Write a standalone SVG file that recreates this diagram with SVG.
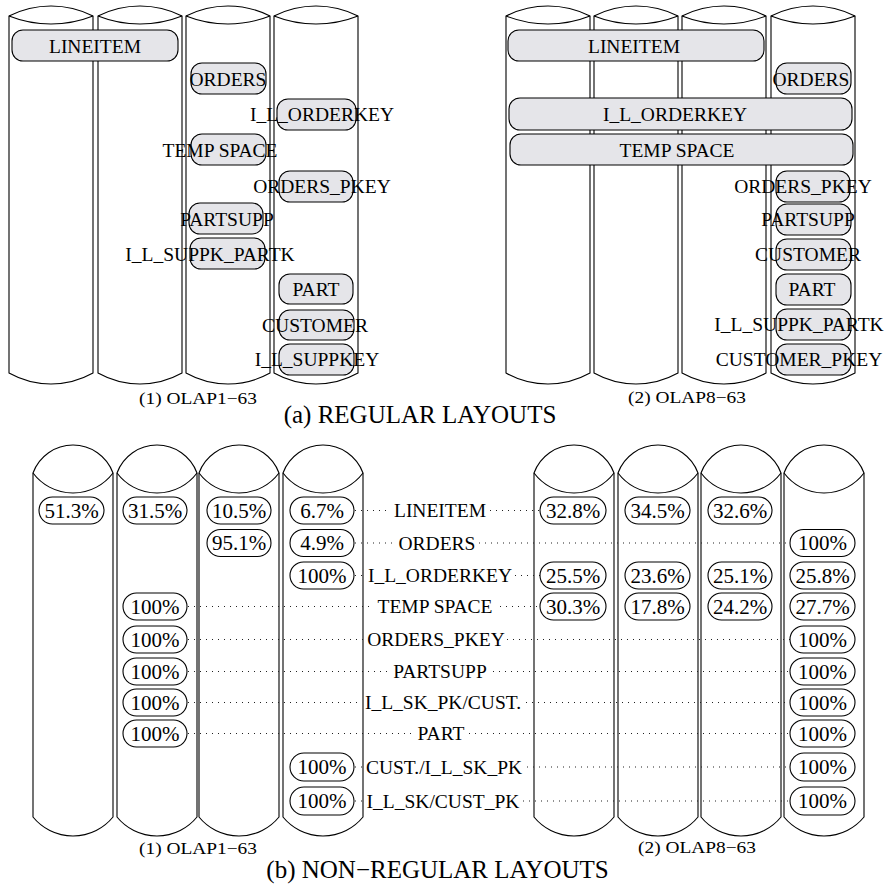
<svg xmlns="http://www.w3.org/2000/svg" xmlns:xlink="http://www.w3.org/1999/xlink" width="889" height="886" viewBox="0 0 889 886">
<style>
.cyl path{fill:#fff;stroke:#000;stroke-width:1.1}
.cyl path.lens{fill:none}
.box{fill:#e5e5e9;stroke:#000;stroke-width:1.1}
.pill{fill:#fff;stroke:#000;stroke-width:1.1}
.t{font-family:"Liberation Serif","Times New Roman",serif;font-size:19.5px;text-anchor:middle;fill:#000}
.p{font-family:"Liberation Serif","Times New Roman",serif;font-size:21px;text-anchor:middle;fill:#000}
.cap{font-family:"Liberation Serif","Times New Roman",serif;font-size:17.5px;text-anchor:middle;fill:#000}
.big{font-family:"Liberation Serif","Times New Roman",serif;font-size:25px;text-anchor:middle;fill:#000}
.dot{stroke:#222;stroke-width:1.1;stroke-dasharray:1 5;fill:none}
</style>
<defs>
<g id="cylTop" class="cyl"><path d="M0 16 V373 A86 86 0 0 0 84 373 V16 A93 93 0 0 0 0 16 Z"/><path class="lens" d="M0 16 A114 114 0 0 0 84 16"/></g>
<g id="cylBot" class="cyl"><path d="M0 473 V817 A51.6 51.6 0 0 0 80 817 V473 A42.6 42.6 0 0 0 0 473 Z"/><path class="lens" d="M0 473 A50 50 0 0 0 80 473"/></g>
</defs>

<g id="cylinders-a">
<use id="a1-cyl1" xlink:href="#cylTop" x="9"/>
<use id="a1-cyl2" xlink:href="#cylTop" x="98"/>
<use id="a1-cyl3" xlink:href="#cylTop" x="186"/>
<use id="a1-cyl4" xlink:href="#cylTop" x="274"/>
<use id="a2-cyl1" xlink:href="#cylTop" x="506"/>
<use id="a2-cyl2" xlink:href="#cylTop" x="594"/>
<use id="a2-cyl3" xlink:href="#cylTop" x="682"/>
<use id="a2-cyl4" xlink:href="#cylTop" x="771"/>
</g>
<g id="cylinders-b">
<use id="b1-cyl1" xlink:href="#cylBot" x="33"/>
<use id="b1-cyl2" xlink:href="#cylBot" x="117"/>
<use id="b1-cyl3" xlink:href="#cylBot" x="199"/>
<use id="b1-cyl4" xlink:href="#cylBot" x="283"/>
<use id="b2-cyl1" xlink:href="#cylBot" x="534"/>
<use id="b2-cyl2" xlink:href="#cylBot" x="618"/>
<use id="b2-cyl3" xlink:href="#cylBot" x="701"/>
<use id="b2-cyl4" xlink:href="#cylBot" x="784"/>
</g>

<!-- (a) regular layouts, OLAP1-63 -->
<g id="a1-lineitem"><rect class="box" x="12" y="30" width="166" height="31" rx="11"/><text class="t" x="95" y="52.5">LINEITEM</text></g>
<g id="a1-orders"><rect class="box" x="191" y="63" width="75" height="31" rx="11"/><text class="t" x="228" y="85.5">ORDERS</text></g>
<g id="a1-ilorderkey"><rect class="box" x="277" y="99" width="79" height="31" rx="11"/><text class="t" x="322" y="121">I_L_ORDERKEY</text></g>
<g id="a1-tempspace"><rect class="box" x="191" y="134" width="75" height="31" rx="11"/><text class="t" x="220" y="156.5">TEMP SPACE</text></g>
<g id="a1-orderspkey"><rect class="box" x="279" y="171" width="74" height="31" rx="11"/><text class="t" x="322" y="193">ORDERS_PKEY</text></g>
<g id="a1-partsupp"><rect class="box" x="189" y="203" width="74" height="31" rx="11"/><text class="t" x="227" y="225.5">PARTSUPP</text></g>
<g id="a1-ilsuppkpartk"><rect class="box" x="190" y="238" width="75" height="31" rx="11"/><text class="t" x="210" y="260.5">I_L_SUPPK_PARTK</text></g>
<g id="a1-part"><rect class="box" x="279" y="274" width="74" height="30" rx="11"/><text class="t" x="316" y="296">PART</text></g>
<g id="a1-customer"><rect class="box" x="279" y="310" width="75" height="30" rx="11"/><text class="t" x="315" y="331.5">CUSTOMER</text></g>
<g id="a1-ilsuppkey"><rect class="box" x="279" y="344" width="75" height="31" rx="11"/><text class="t" x="317" y="366">I_L_SUPPKEY</text></g>

<!-- (a) regular layouts, OLAP8-63 -->
<g id="a2-lineitem"><rect class="box" x="508" y="30" width="256" height="31" rx="11"/><text class="t" x="634" y="52.5">LINEITEM</text></g>
<g id="a2-orders"><rect class="box" x="776" y="63" width="75" height="31" rx="11"/><text class="t" x="811" y="85.5">ORDERS</text></g>
<g id="a2-ilorderkey"><rect class="box" x="509" y="98" width="343" height="32" rx="11"/><text class="t" x="675" y="121">I_L_ORDERKEY</text></g>
<g id="a2-tempspace"><rect class="box" x="510" y="134" width="343" height="31" rx="11"/><text class="t" x="677" y="156.5">TEMP SPACE</text></g>
<g id="a2-orderspkey"><rect class="box" x="776" y="171" width="74" height="31" rx="11"/><text class="t" x="803" y="193">ORDERS_PKEY</text></g>
<g id="a2-partsupp"><rect class="box" x="776" y="204" width="75" height="31" rx="11"/><text class="t" x="808" y="226">PARTSUPP</text></g>
<g id="a2-customer"><rect class="box" x="776" y="239" width="75" height="31" rx="11"/><text class="t" x="808" y="261">CUSTOMER</text></g>
<g id="a2-part"><rect class="box" x="776" y="274" width="75" height="31" rx="11"/><text class="t" x="812" y="296">PART</text></g>
<g id="a2-ilsuppkpartk"><rect class="box" x="776" y="309" width="75" height="31" rx="11"/><text class="t" x="799" y="331">I_L_SUPPK_PARTK</text></g>
<g id="a2-customerpkey"><rect class="box" x="776" y="344" width="75" height="31" rx="11"/><text class="t" x="799" y="366">CUSTOMER_PKEY</text></g>

<g id="captions-a">
<text class="cap" x="198" y="404" textLength="118" lengthAdjust="spacingAndGlyphs">(1) OLAP1−63</text>
<text class="cap" x="687" y="403" textLength="118" lengthAdjust="spacingAndGlyphs">(2) OLAP8−63</text>
<text class="big" x="420" y="423">(a) REGULAR LAYOUTS</text>
</g>

<!-- (b) connectors -->
<g id="connectors">
<path class="dot" d="M355 510.5H390M490 510.5H540"/>
<path class="dot" d="M355 543H396M479 543H790"/>
<path class="dot" d="M355 575.5H365M515 575.5H540"/>
<path class="dot" d="M188 606.5H373M500 606.5H540"/>
<path class="dot" d="M188 639.5H365M507 639.5H790"/>
<path class="dot" d="M188 671.5H389M493 671.5H790"/>
<path class="dot" d="M188 702.5H361M526 702.5H790"/>
<path class="dot" d="M188 733.5H413M469 733.5H790"/>
<path class="dot" d="M355 767H362M527 767H790"/>
<path class="dot" d="M355 801H362M523 801H790"/>
</g>

<!-- (b) labels -->
<g id="labels-b">
<text id="lb-lineitem" class="t" x="440" y="517">LINEITEM</text>
<text id="lb-orders" class="t" x="437" y="549.5">ORDERS</text>
<text id="lb-ilorderkey" class="t" x="440" y="582">I_L_ORDERKEY</text>
<text id="lb-tempspace" class="t" x="435" y="613">TEMP SPACE</text>
<text id="lb-orderspkey" class="t" x="436" y="646">ORDERS_PKEY</text>
<text id="lb-partsupp" class="t" x="440" y="678">PARTSUPP</text>
<text id="lb-ilskpk" class="t" x="443" y="709">I_L_SK_PK/CUST.</text>
<text id="lb-part" class="t" x="441" y="740">PART</text>
<text id="lb-cust" class="t" x="444" y="773.5">CUST./I_L_SK_PK</text>
<text id="lb-ilsk" class="t" x="443" y="807.5">I_L_SK/CUST_PK</text>
</g>

<!-- (b) percentage pills -->
<g id="r1-c1"><rect class="pill" x="39" y="497" width="65" height="27" rx="13.5"/><text class="p" x="71.5" y="517.5">51.3%</text></g>
<g id="r1-c2"><rect class="pill" x="123" y="497" width="64" height="27" rx="13.5"/><text class="p" x="155" y="517.5">31.5%</text></g>
<g id="r1-c3"><rect class="pill" x="207" y="497" width="64" height="27" rx="13.5"/><text class="p" x="239" y="517.5">10.5%</text></g>
<g id="r1-c4"><rect class="pill" x="290" y="497" width="64" height="27" rx="13.5"/><text class="p" x="322" y="517.5">6.7%</text></g>
<g id="r1-c5"><rect class="pill" x="540" y="497" width="66" height="27" rx="13.5"/><text class="p" x="573" y="517.5">32.8%</text></g>
<g id="r1-c6"><rect class="pill" x="625" y="497" width="65" height="27" rx="13.5"/><text class="p" x="657.5" y="517.5">34.5%</text></g>
<g id="r1-c7"><rect class="pill" x="708" y="497" width="64" height="27" rx="13.5"/><text class="p" x="740" y="517.5">32.6%</text></g>

<g id="r2-c3"><rect class="pill" x="207" y="529.5" width="64" height="27" rx="13.5"/><text class="p" x="239" y="550">95.1%</text></g>
<g id="r2-c4"><rect class="pill" x="290" y="529.5" width="64" height="27" rx="13.5"/><text class="p" x="322" y="550">4.9%</text></g>
<g id="r2-c8"><rect class="pill" x="790" y="529.5" width="65" height="27" rx="13.5"/><text class="p" x="822.5" y="550">100%</text></g>

<g id="r3-c4"><rect class="pill" x="290" y="562" width="64" height="27" rx="13.5"/><text class="p" x="322" y="582.5">100%</text></g>
<g id="r3-c5"><rect class="pill" x="540" y="562" width="66" height="27" rx="13.5"/><text class="p" x="573" y="582.5">25.5%</text></g>
<g id="r3-c6"><rect class="pill" x="625" y="562" width="65" height="27" rx="13.5"/><text class="p" x="657.5" y="582.5">23.6%</text></g>
<g id="r3-c7"><rect class="pill" x="708" y="562" width="64" height="27" rx="13.5"/><text class="p" x="740" y="582.5">25.1%</text></g>
<g id="r3-c8"><rect class="pill" x="790" y="562" width="65" height="27" rx="13.5"/><text class="p" x="822.5" y="582.5">25.8%</text></g>

<g id="r4-c2"><rect class="pill" x="123" y="593" width="64" height="27" rx="13.5"/><text class="p" x="155" y="613.5">100%</text></g>
<g id="r4-c5"><rect class="pill" x="540" y="593" width="66" height="27" rx="13.5"/><text class="p" x="573" y="613.5">30.3%</text></g>
<g id="r4-c6"><rect class="pill" x="625" y="593" width="65" height="27" rx="13.5"/><text class="p" x="657.5" y="613.5">17.8%</text></g>
<g id="r4-c7"><rect class="pill" x="708" y="593" width="64" height="27" rx="13.5"/><text class="p" x="740" y="613.5">24.2%</text></g>
<g id="r4-c8"><rect class="pill" x="790" y="593" width="65" height="27" rx="13.5"/><text class="p" x="822.5" y="613.5">27.7%</text></g>

<g id="r5-c2"><rect class="pill" x="123" y="626" width="64" height="27" rx="13.5"/><text class="p" x="155" y="646.5">100%</text></g>
<g id="r5-c8"><rect class="pill" x="790" y="626" width="65" height="27" rx="13.5"/><text class="p" x="822.5" y="646.5">100%</text></g>
<g id="r6-c2"><rect class="pill" x="123" y="658" width="64" height="27" rx="13.5"/><text class="p" x="155" y="678.5">100%</text></g>
<g id="r6-c8"><rect class="pill" x="790" y="658" width="65" height="27" rx="13.5"/><text class="p" x="822.5" y="678.5">100%</text></g>
<g id="r7-c2"><rect class="pill" x="123" y="689" width="64" height="27" rx="13.5"/><text class="p" x="155" y="709.5">100%</text></g>
<g id="r7-c8"><rect class="pill" x="790" y="689" width="65" height="27" rx="13.5"/><text class="p" x="822.5" y="709.5">100%</text></g>
<g id="r8-c2"><rect class="pill" x="123" y="720" width="64" height="27" rx="13.5"/><text class="p" x="155" y="740.5">100%</text></g>
<g id="r8-c8"><rect class="pill" x="790" y="720" width="65" height="27" rx="13.5"/><text class="p" x="822.5" y="740.5">100%</text></g>
<g id="r9-c4"><rect class="pill" x="290" y="753" width="64" height="28" rx="14"/><text class="p" x="322" y="774">100%</text></g>
<g id="r9-c8"><rect class="pill" x="790" y="753" width="65" height="28" rx="14"/><text class="p" x="822.5" y="774">100%</text></g>
<g id="r10-c4"><rect class="pill" x="290" y="787" width="64" height="28" rx="14"/><text class="p" x="322" y="808">100%</text></g>
<g id="r10-c8"><rect class="pill" x="790" y="787" width="65" height="28" rx="14"/><text class="p" x="822.5" y="808">100%</text></g>

<g id="captions-b">
<text class="cap" x="198" y="854" textLength="118" lengthAdjust="spacingAndGlyphs">(1) OLAP1−63</text>
<text class="cap" x="697" y="853" textLength="118" lengthAdjust="spacingAndGlyphs">(2) OLAP8−63</text>
<text class="big" x="437.5" y="878">(b) NON−REGULAR LAYOUTS</text>
</g>
</svg>
